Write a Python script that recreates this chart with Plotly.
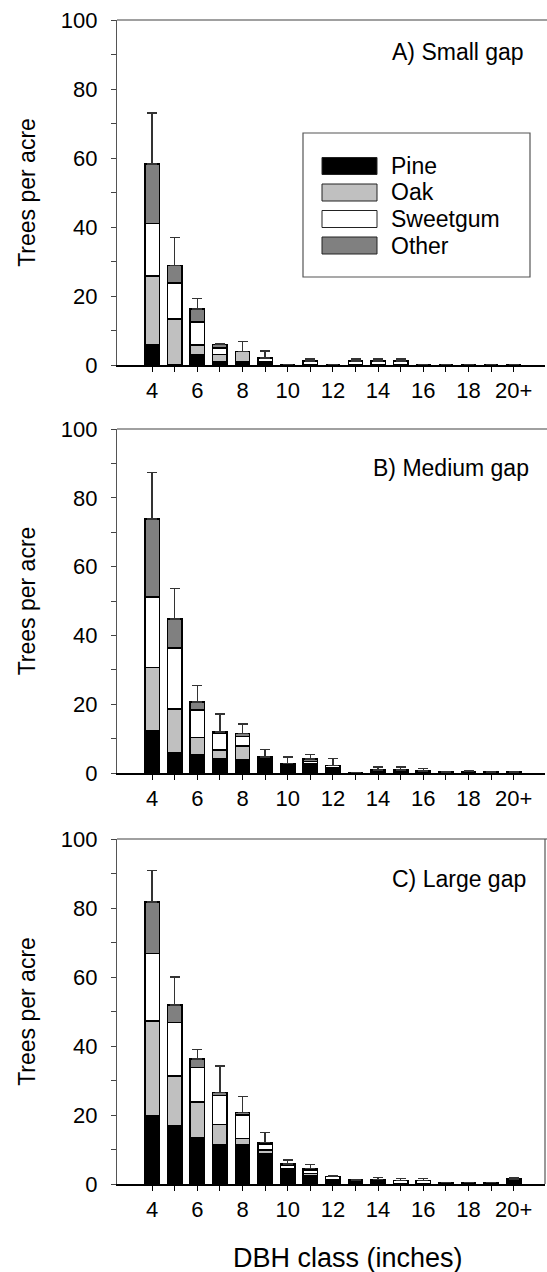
import plotly.graph_objects as go

# ---------------- data ----------------
dbh_classes = ["4", "5", "6", "7", "8", "9", "10", "11", "12", "13", "14",
               "15", "16", "17", "18", "19", "20+"]
tick_labels = ["4", "", "6", "", "8", "", "10", "", "12", "", "14", "",
               "16", "", "18", "", "20+"]
species = ["Pine", "Oak", "Sweetgum", "Other"]

# A) Small gap
small_pine = [5.8, 0, 3.0, 1.0, 1.0, 0.9, 0, 0, 0, 0, 0, 0, 0, 0, 0, 0, 0]
small_oak = [20.0, 13.3, 2.8, 2.0, 2.9, 0, 0, 0, 0, 0, 0, 0, 0, 0, 0, 0, 0]
small_sweetgum = [15.2, 10.4, 6.6, 2.0, 0, 1.2, 0, 1.2, 0, 1.2, 1.2, 1.2, 0, 0, 0, 0, 0]
small_other = [17.2, 5.1, 3.8, 1.0, 0, 0, 0, 0, 0, 0, 0, 0, 0, 0, 0, 0, 0]
small_err_top = [73.0, 37.0, 19.3, 6.3, 6.8, 4.0, None, 1.8, None, 1.8, 1.8, 1.8,
                 None, None, None, None, None]

# B) Medium gap
medium_pine = [12.2, 5.9, 5.4, 4.0, 3.8, 3.6, 1.3, 2.3, 1.6, 0, 0.2, 0.2, 0.3, 0.3, 0.3, 0.3, 0.3]
medium_oak = [18.5, 12.7, 4.9, 2.7, 4.1, 0, 0.5, 0.4, 0, 0, 0.4, 0.3, 0.1, 0, 0.1, 0, 0]
medium_sweetgum = [20.5, 17.7, 8.0, 4.8, 2.7, 0.5, 0.5, 0.6, 0.6, 0, 0.3, 0.4, 0.2, 0, 0, 0, 0]
medium_other = [22.6, 8.4, 2.4, 0.4, 0.9, 0.5, 0.5, 0.7, 0, 0, 0, 0, 0, 0, 0, 0, 0]
medium_err_top = [87.3, 53.7, 25.4, 17.1, 14.2, 6.9, 4.6, 5.4, 4.2, None, 1.7, 1.7,
                  1.25, 0.5, 0.8, 0.5, 0.5]

# C) Large gap
large_pine = [19.9, 17.0, 13.5, 11.5, 11.5, 8.9, 3.8, 2.5, 1.3, 1.2, 0.5, 0, 0, 0.5, 0.5, 0.5, 0.4]
large_oak = [27.3, 14.3, 10.3, 5.8, 1.7, 1.0, 0.6, 0.6, 0, 0, 0.3, 0, 0, 0, 0, 0, 0]
large_sweetgum = [19.6, 15.5, 9.9, 8.3, 6.8, 1.7, 1.0, 1.0, 0.9, 0, 0.5, 1.0, 1.0, 0, 0, 0, 0.5]
large_other = [14.9, 5.1, 2.5, 0.9, 0.7, 0.4, 0.4, 0.4, 0, 0, 0, 0, 0, 0, 0, 0, 0.5]
large_err_top = [90.9, 60.0, 39.0, 34.2, 25.3, 14.9, 7.0, 5.7, 2.5, None, 1.9, 1.65,
                 1.6, None, None, None, 1.7]

panel_titles = ["A) Small gap", "B) Medium gap", "C) Large gap"]
y_tick_vals = [0, 10, 20, 30, 40, 50, 60, 70, 80, 90, 100]
y_tick_text = ["0", "", "20", "", "40", "", "60", "", "80", "", "100"]

# ---------------- styling ----------------
W, H = 547, 1272
FONT = "Liberation Sans, Arial, Helvetica, sans-serif"
colors = {"Pine": "#000000", "Oak": "#c0c0c0", "Sweetgum": "#ffffff", "Other": "#808080"}


def px_x(x):
    return x / W


def px_y(y):
    return 1 - y / H


panels = [
    dict(pine=small_pine, oak=small_oak, sweet=small_sweetgum, other=small_other,
         err=small_err_top, top=20, bottom=365, title_y=52, title_x=526),
    dict(pine=medium_pine, oak=medium_oak, sweet=medium_sweetgum, other=medium_other,
         err=medium_err_top, top=429, bottom=773, title_y=468, title_x=531),
    dict(pine=large_pine, oak=large_oak, sweet=large_sweetgum, other=large_other,
         err=large_err_top, top=839, bottom=1184, title_y=879, title_x=528),
]

X_LEFT, X_RIGHT = 117, 545
FIRST_CAT_PX, CAT_STEP = 152.1, 22.6
x_range = [(X_LEFT - FIRST_CAT_PX) / CAT_STEP, (X_RIGHT - FIRST_CAT_PX) / CAT_STEP]

fig = go.Figure()
layout = dict(
    width=W, height=H, margin=dict(l=0, r=0, t=0, b=0, autoexpand=False),
    paper_bgcolor="white", plot_bgcolor="white",
    barmode="stack", bargap=0.36, showlegend=False,
    font=dict(family=FONT, size=22, color="black"),
)
shapes = []
annotations = []

for i, p in enumerate(panels):
    n = i + 1
    xa = "x" if n == 1 else f"x{n}"
    ya = "y" if n == 1 else f"y{n}"
    series = [("Pine", p["pine"]), ("Oak", p["oak"]), ("Sweetgum", p["sweet"]),
              ("Other", p["other"])]
    totals = [sum(v) for v in zip(p["pine"], p["oak"], p["sweet"], p["other"])]
    errs = [None if t is None else max(t - tot, 0) for t, tot in zip(p["err"], totals)]
    for k, (name, vals) in enumerate(series):
        tr = dict(
            x=dbh_classes, y=vals, name=name, xaxis=xa, yaxis=ya,
            marker=dict(color=colors[name], line=dict(color="black", width=1.5)),
            showlegend=False,
        )
        if name == "Other":
            tr["error_y"] = dict(type="data", array=errs, symmetric=False,
                                 arrayminus=[0] * len(errs), color="#333333",
                                 thickness=1.5, width=5)
        fig.add_trace(go.Bar(**tr))

    dom_y = [px_y(p["bottom"]), px_y(p["top"])]
    layout[f"xaxis{'' if n == 1 else n}"] = dict(
        domain=[px_x(X_LEFT), px_x(X_RIGHT)], anchor=ya, type="category",
        range=x_range, tickmode="array", tickvals=dbh_classes, ticktext=tick_labels,
        ticks="outside", ticklen=5, tickwidth=1, tickcolor="black",
        showline=True, linecolor="black", linewidth=1.5, showgrid=False,
        zeroline=False, tickfont=dict(size=22), ticklabelstandoff=0,
        automargin=False,
    )
    layout[f"yaxis{'' if n == 1 else n}"] = dict(
        domain=dom_y, anchor=xa, range=[0, 100], tickmode="array",
        tickvals=y_tick_vals, ticktext=y_tick_text,
        ticks="outside", ticklen=5, tickwidth=1, tickcolor="#444444",
        showline=True, linecolor="#555555", linewidth=1.2, showgrid=False,
        zeroline=False, tickfont=dict(size=22), ticklabelstandoff=9,
        title=dict(text="Trees per acre", font=dict(size=23), standoff=18),
        automargin=False,
    )
    # top frame line
    shapes.append(dict(type="line", xref="paper", yref="paper",
                       x0=px_x(X_LEFT), x1=1.0, y0=dom_y[1], y1=dom_y[1],
                       line=dict(color="#808080", width=1.5)))
    annotations.append(dict(text=panel_titles[i], xref="paper", yref="paper",
                            x=px_x(p["title_x"]), y=px_y(p["title_y"]),
                            xanchor="right", yanchor="middle", showarrow=False,
                            font=dict(size=23)))

# right frame line on the last panel
shapes.append(dict(type="line", xref="paper", yref="paper",
                   x0=px_x(X_RIGHT), x1=px_x(X_RIGHT),
                   y0=px_y(panels[2]["bottom"]), y1=px_y(panels[2]["top"]),
                   line=dict(color="#555555", width=1.2)))

# legend (drawn as a box inside panel A)
shapes.append(dict(type="rect", xref="paper", yref="paper",
                   x0=px_x(303), x1=px_x(530), y0=px_y(277), y1=px_y(133),
                   line=dict(color="#555555", width=1.2), fillcolor="white"))
for j, name in enumerate(species):
    cy = 166 + j * 26.5
    shapes.append(dict(type="rect", xref="paper", yref="paper",
                       x0=px_x(322), x1=px_x(377), y0=px_y(cy + 8.5), y1=px_y(cy - 8.5),
                       line=dict(color="#222222", width=1), fillcolor=colors[name]))
    annotations.append(dict(text=name, xref="paper", yref="paper",
                            x=px_x(389), y=px_y(cy), xanchor="left", yanchor="middle",
                            showarrow=False, font=dict(size=23)))

annotations.append(dict(text="DBH class (inches)", xref="paper", yref="paper",
                        x=px_x(348), y=px_y(1258), xanchor="center", yanchor="middle",
                        showarrow=False, font=dict(size=27)))

layout["shapes"] = shapes
layout["annotations"] = annotations
fig.update_layout(**layout)
fig.write_html(
    "out.html",
    config={"displayModeBar": False, "staticPlot": True},
    post_script="document.body.style.margin='0';document.body.style.overflow='hidden';",
)
